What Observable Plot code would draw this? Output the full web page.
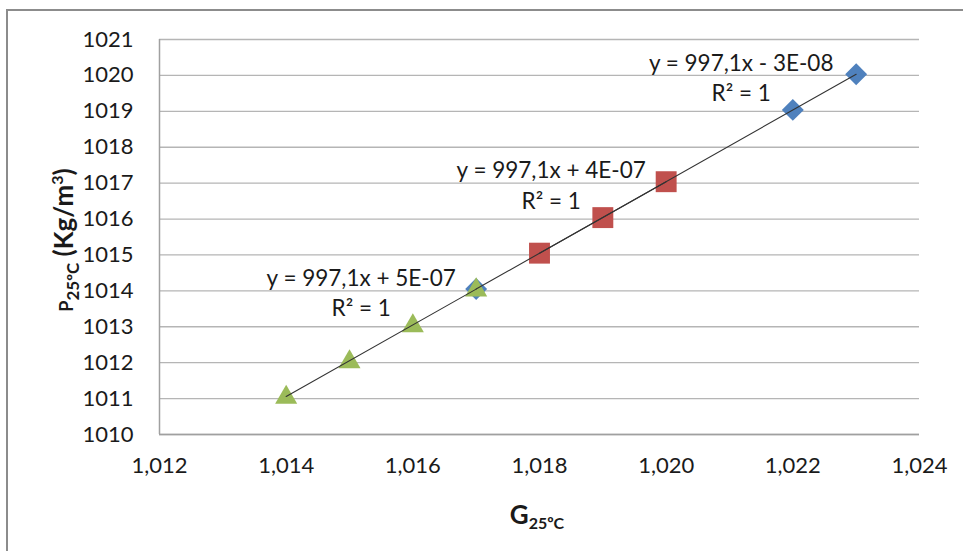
<!DOCTYPE html>
<html>
<head>
<meta charset="utf-8">
<script src="https://cdn.jsdelivr.net/npm/d3@7"></script>
<script src="https://cdn.jsdelivr.net/npm/@observablehq/plot@0.6"></script>
<style>
  html, body { margin: 0; padding: 0; background: #fff; overflow: hidden; }
  #wrap { position: relative; width: 963px; height: 551px; }
  #border { position: absolute; left: 6px; top: 9px; width: 1000px; height: 600px;
            border-left: 2px solid #8c8c8c; border-top: 2px solid #8c8c8c; }
  #chart { position: absolute; left: 0; top: 0; }
</style>
</head>
<body>
<div id="wrap"><div id="border"></div><div id="chart"></div></div>
<script>
// Specific gravity (G) vs density (kg/m³) at 25 ºC, three measurement series
const gBlue = [1.017, 1.022, 1.023];
const rhoBlue = [1014.05, 1019.04, 1020.03];
const gRed = [1.018, 1.019, 1.020];
const rhoRed = [1015.05, 1016.04, 1017.04];
const gGreen = [1.014, 1.015, 1.016, 1.017];
const rhoGreen = [1011.06, 1012.05, 1013.05, 1014.05];

const eqBlue = "y = 997,1x - 3E-08";
const eqRed = "y = 997,1x + 4E-07";
const eqGreen = "y = 997,1x + 5E-07";
const r2Text = "R² = 1";

const xTicks = [1.012, 1.014, 1.016, 1.018, 1.020, 1.022, 1.024];
const yTicks = [1010, 1011, 1012, 1013, 1014, 1015, 1016, 1017, 1018, 1019, 1020, 1021];

const colors = { blue: "#4F81BD", red: "#C0504D", green: "#9BBB59" };

const rows = (xs, ys) => xs.map((x, i) => ({ x, y: ys[i] }));
const blue = rows(gBlue, rhoBlue);
const red = rows(gRed, rhoRed);
const green = rows(gGreen, rhoGreen);

// equation labels sit just left of each series' last point
const labels = [
  { ...blue[blue.length - 1], text: eqBlue + "\n" + r2Text },
  { ...red[red.length - 1], text: eqRed + "\n" + r2Text },
  { ...green[green.length - 1], text: eqGreen + "\n" + r2Text }
];

const comma = d3.formatLocale({ decimal: ",", thousands: ".", grouping: [3], currency: ["", ""] }).format(".3f");
const FONT = "Lato, 'Open Sans', sans-serif";

const trend = (data) => Plot.linearRegressionY(data, { x: "x", y: "y", stroke: "#333", strokeWidth: 1.1, ci: 0 });

const plot = Plot.plot({
  width: 963,
  height: 551,
  marginLeft: 159,
  marginRight: 44,
  marginTop: 39,
  marginBottom: 117,
  style: { fontFamily: FONT, fontSize: "22px", color: "#1a1a1a", background: "transparent", overflow: "visible" },
  x: { domain: [1.012, 1.024], ticks: xTicks, tickFormat: comma, tickSize: 0, tickPadding: 23, label: null },
  y: { domain: [1010, 1021], ticks: yTicks, tickFormat: d => String(d), tickSize: 0, tickPadding: 26, label: null },
  marks: [
    Plot.gridY(yTicks, { stroke: "#b5b5b5", strokeOpacity: 1, strokeWidth: 1.3 }),
    Plot.ruleX([1.012], { stroke: "#a0a0a0", strokeWidth: 1.5 }),
    Plot.ruleY([1010], { stroke: "#a0a0a0", strokeWidth: 1.5 }),
    Plot.dot(blue, { x: "x", y: "y", symbol: "diamond2", r: 9.9, fill: colors.blue, stroke: "none" }),
    Plot.dot(red, { x: "x", y: "y", symbol: "square", r: 11.8, fill: colors.red, stroke: "none" }),
    Plot.dot(green, { x: "x", y: "y", symbol: "triangle", r: 8.2, fill: colors.green, stroke: "none", dy: 1 }),
    trend(blue),
    trend(red),
    trend(green),
    Plot.text(labels, { x: "x", y: "y", text: "text", dx: -115, dy: 2, lineAnchor: "middle", lineHeight: 1.36, textAnchor: "middle", fill: "#1a1a1a", fontSize: 22.5 })
  ]
});

document.getElementById("chart").appendChild(plot);

// Axis titles with subscripts
const svg = d3.select(plot);
const xt = svg.append("text")
  .attr("x", 537).attr("y", 524)
  .attr("text-anchor", "middle")
  .attr("font-family", FONT).attr("font-weight", "bold").attr("font-size", 26).attr("fill", "#1a1a1a");
xt.append("tspan").text("G");
xt.append("tspan").attr("font-size", 16).attr("dy", 5).text("25ºC");

const yt = svg.append("text")
  .attr("transform", "translate(73,240) rotate(-90)")
  .attr("text-anchor", "middle")
  .attr("font-family", FONT).attr("font-weight", "bold").attr("font-size", 26).attr("fill", "#1a1a1a");
yt.append("tspan").attr("font-size", 18).text("P");
yt.append("tspan").attr("font-size", 17).attr("dy", 6).text("25ºC");
yt.append("tspan").attr("dy", -6).text(" (Kg/m");
yt.append("tspan").attr("font-size", 16).attr("dy", -10).text("3");
yt.append("tspan").attr("dy", 10).text(")");
</script>
</body>
</html>
